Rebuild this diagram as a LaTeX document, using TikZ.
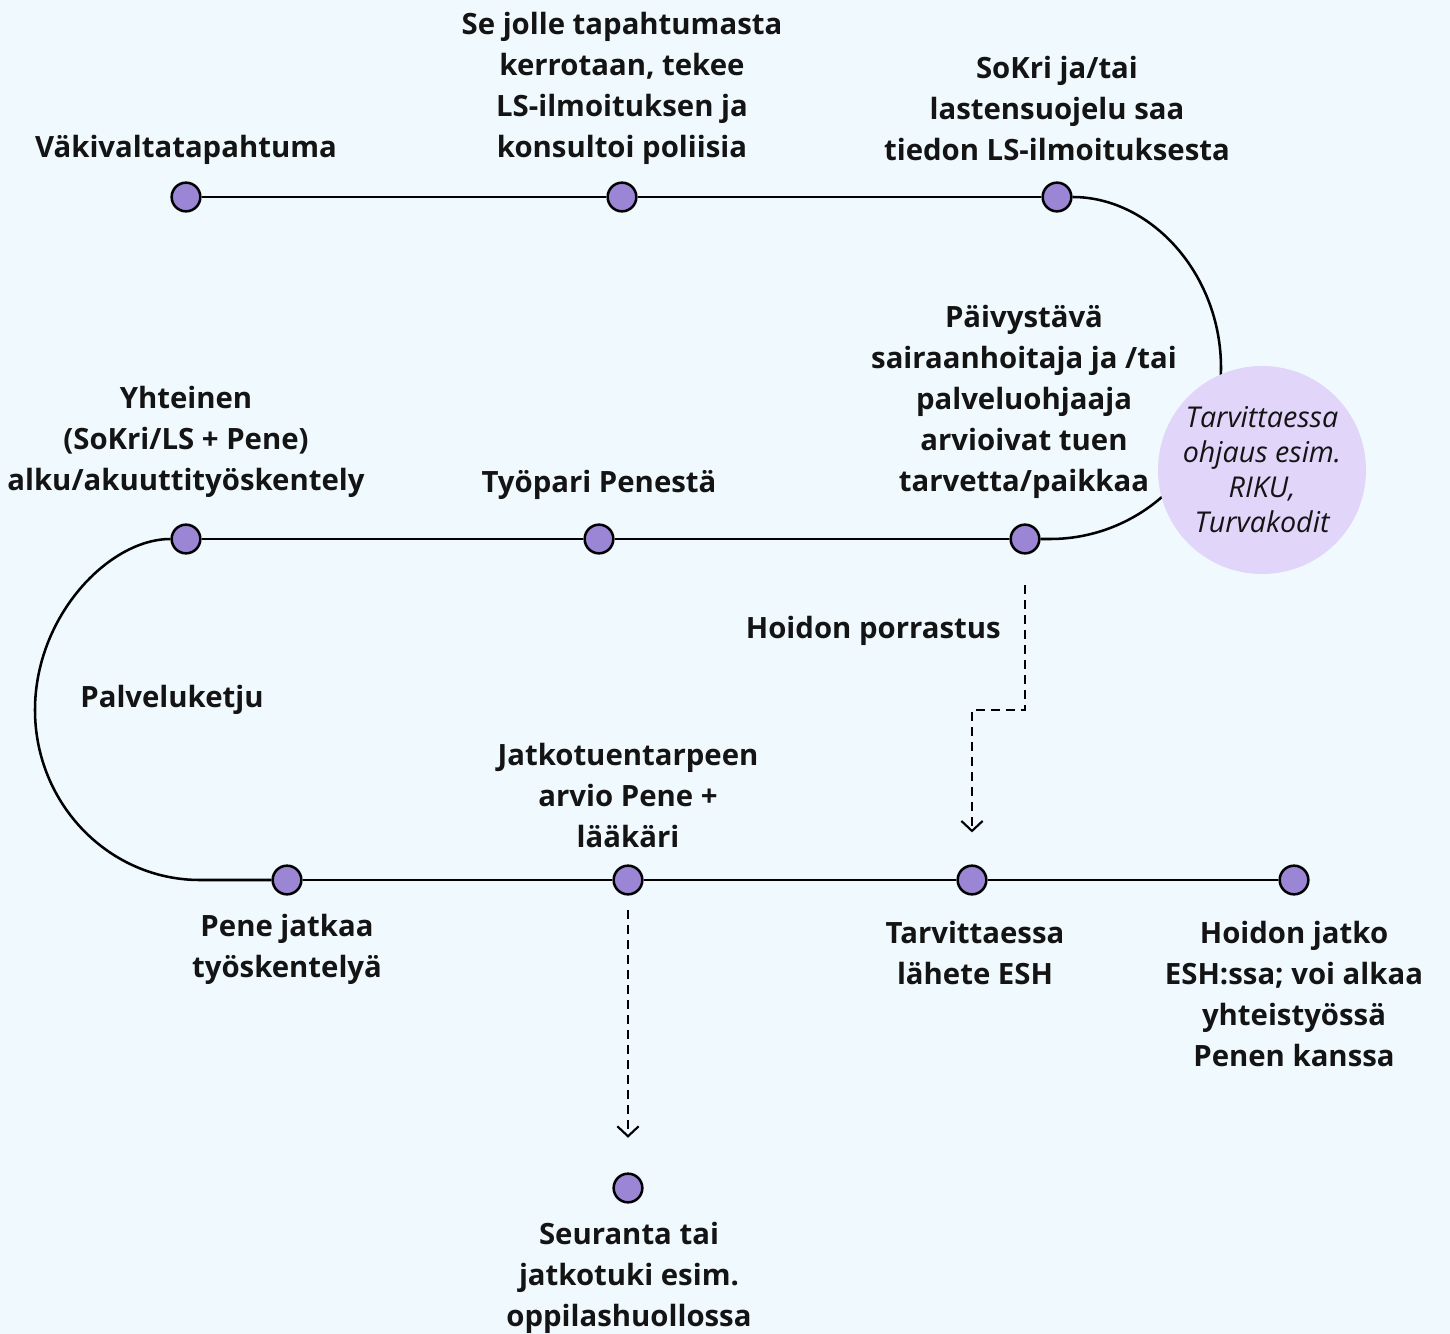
\documentclass[tikz,border=0pt]{standalone}
\usepackage{fontspec}
\setmainfont{Open Sans}
\usetikzlibrary{arrows.meta}
\definecolor{bg}{HTML}{EFF9FE}
\definecolor{dotc}{HTML}{9B85D5}
\definecolor{bubble}{HTML}{E1D5FA}
\definecolor{ink}{HTML}{141414}
\begin{document}
\begin{tikzpicture}[x=0.75pt,y=-0.75pt,
  dot/.style={circle,draw=black,fill=dotc,line width=1.9pt,minimum size=21.5pt,inner sep=0pt},
  lbl/.style={align=center,font=\fontsize{22}{30.75}\selectfont\bfseries,text=ink,inner sep=0pt},
  conn/.style={line width=1.9pt,draw=black},
  dasharr/.style={line width=1.9pt,dash pattern=on 6.75pt off 4.5pt,
    -{Straight Barb[length=7.5pt,width=16pt,line width=1.6pt]}},
  ]
\useasboundingbox (0,0) rectangle (1450,1334);
\fill[bg] (0,0) rectangle (1450,1334);

% dots
\node[dot] (d1) at (186,197) {};
\node[dot] (d2) at (622,197) {};
\node[dot] (d3) at (1057,197) {};
\node[dot] (d4) at (186,539) {};
\node[dot] (d5) at (599,539) {};
\node[dot] (d6) at (1025,539) {};
\node[dot] (d7) at (287,880) {};
\node[dot] (d8) at (628,880) {};
\node[dot] (d9) at (972,880) {};
\node[dot] (d10) at (1294,880) {};
\node[dot] (d11) at (628,1188) {};

\coordinate (k1) at (1221,368);
\coordinate (k2) at (1050,539);
\coordinate (k3) at (35,710);
\coordinate (k4) at (200,880);
\coordinate (h1) at (1025,710);
\coordinate (h2) at (972,710);

% solid connectors
\draw[conn] (d1) -- (d2);
\draw[conn] (d2) -- (d3);
\draw[conn] (d3) .. controls (1151,197) and (1221,274) .. (k1)
  .. controls (1221,462) and (1144,539) .. (k2) -- (d6);
\draw[conn] (d6) -- (d5);
\draw[conn] (d5) -- (d4);
\draw[conn] (d4) .. controls (109,539) and (35,616) .. (k3)
  .. controls (35,804) and (109,880) .. (k4) -- (d7);
\draw[conn] (d7) -- (d8);
\draw[conn] (d8) -- (d9);
\draw[conn] (d9) -- (d10);

% dashed connectors
\draw[dasharr,shorten <=23pt,shorten >=24pt] (d6) -- (h1) -- (h2) -- (d9);
\draw[dasharr,shorten <=11pt,shorten >=26pt] (d8) -- (d11);

% bubble
\node[circle,fill=bubble,minimum size=156pt,inner sep=0pt,align=center,text=ink,
  font=\fontsize{21.5}{26.25}\selectfont\itshape] (b) at (1262,470)
  {Tarvittaessa\\ohjaus esim.\\RIKU,\\Turvakodit};

% labels
\node[lbl] (t1) at (186,150) {Väkivaltatapahtuma};
\node[lbl] (t2) at (622,88) {Se jolle tapahtumasta\\kerrotaan, tekee\\LS-ilmoituksen ja\\konsultoi poliisia};
\node[lbl] (t3) at (1057,109) {SoKri ja/tai\\lastensuojelu saa\\tiedon LS-ilmoituksesta};
\node[lbl] (t4) at (1024,402) {Päivystävä\\sairaanhoitaja ja /tai\\palveluohjaaja\\arvioivat tuen\\tarvetta/paikkaa};
\node[lbl] (t5) at (186,442) {Yhteinen\\(SoKri/LS + Pene)\\alku/akuuttityöskentely};
\node[lbl] (t6) at (599,485) {Työpari Penestä};
\node[lbl,anchor=east] (t7) at (1001,631) {Hoidon porrastus};
\node[lbl] (t8) at (172,700) {Palveluketju};
\node[lbl] (t9) at (628,795) {Jatkotuentarpeen\\arvio Pene +\\lääkäri};
\node[lbl] (t10) at (287,949) {Pene jatkaa\\työskentelyä};
\node[lbl] (t11) at (975,953) {Tarvittaessa\\lähete ESH};
\node[lbl] (t12) at (1294,994) {Hoidon jatko\\ESH:ssa; voi alkaa\\yhteistyössä\\Penen kanssa};
\node[lbl] (t13) at (629,1278) {Seuranta tai\\jatkotuki esim.\\oppilashuollossa};
\end{tikzpicture}
\end{document}
